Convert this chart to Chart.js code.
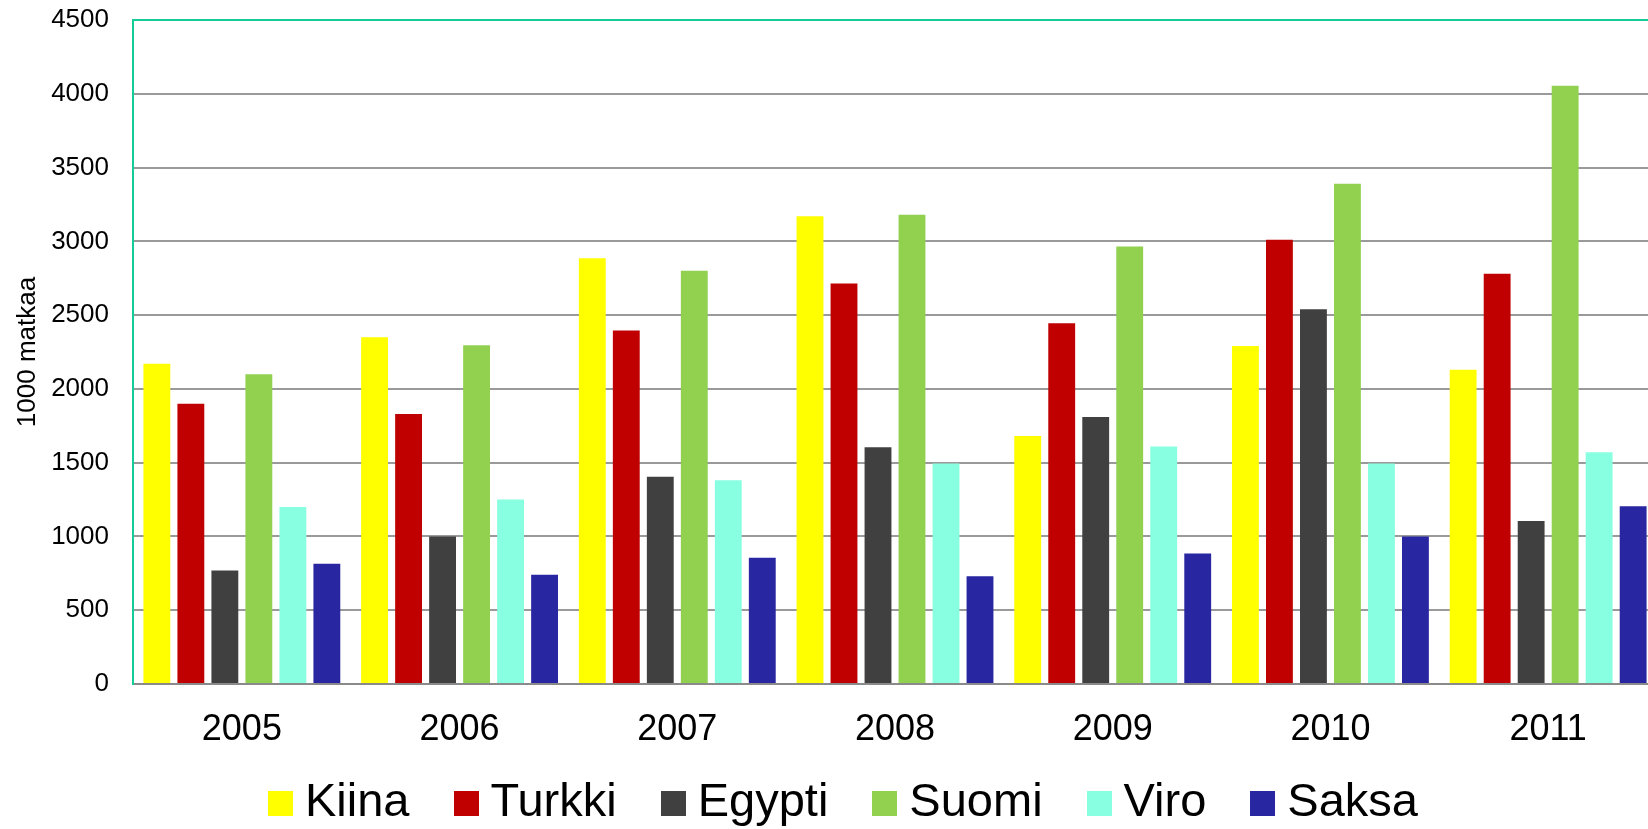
<!DOCTYPE html>
<html>
<head>
<meta charset="utf-8">
<script src="https://cdn.jsdelivr.net/npm/chart.js@4"></script>
<style>
  body { margin: 0; overflow: hidden; background: #fff; font-family: "Liberation Sans", Arial, sans-serif; }
  #wrap { position: absolute; left: 0; top: 0; width: 1648px; height: 829px; overflow: hidden; }
  #legend-container { position: absolute; left: 268px; top: 775px; display: flex; white-space: nowrap; }
  .legend-item { display: flex; align-items: center; margin-right: 44px; font-size: 47px; line-height: 50px; color: #000; }
  .legend-color { display: inline-block; width: 25px; height: 25px; margin-right: 12px; position: relative; top: 3px; }
</style>
</head>
<body>
<div id="wrap">
  <canvas id="travelChart" width="1660" height="829"></canvas>
  <div id="legend-container"></div>
</div>
<script>
const years = ['2005', '2006', '2007', '2008', '2009', '2010', '2011'];
const kiina = [2170, 2350, 2885, 3170, 1680, 2290, 2130];
const turkki = [1900, 1830, 2395, 2715, 2445, 3010, 2780];
const egypti = [770, 1000, 1405, 1605, 1810, 2540, 1105];
const suomi = [2100, 2295, 2800, 3180, 2965, 3390, 4055];
const viro = [1200, 1250, 1380, 1495, 1610, 1495, 1570];
const saksa = [815, 740, 855, 730, 885, 1000, 1205];
const yTicks = [0, 500, 1000, 1500, 2000, 2500, 3000, 3500, 4000, 4500];

const seriesNames = ['Kiina', 'Turkki', 'Egypti', 'Suomi', 'Viro', 'Saksa'];
const seriesData = [kiina, turkki, egypti, suomi, viro, saksa];
const seriesColors = ['#FFFF00', '#C00000', '#404040', '#92D050', '#88FFE0', '#2926A2'];

const green = '#14CC96';

const ctx = document.getElementById('travelChart').getContext('2d');
const travelChart = new Chart(ctx, {
    type: 'bar',
    data: {
        labels: years,
        datasets: seriesNames.map((name, i) => ({
            label: name,
            data: seriesData[i],
            backgroundColor: seriesColors[i],
            borderWidth: 0,
            categoryPercentage: 0.937,
            barPercentage: 0.79
        }))
    },
    options: {
        responsive: false,
        animation: false,
        layout: {
            padding: { top: 20, right: 3, left: 0, bottom: 0 }
        },
        plugins: {
            legend: { display: false },
            title: { display: false },
            tooltip: { enabled: false }
        },
        scales: {
            x: {
                grid: { display: false, drawTicks: false },
                border: { display: true, color: '#8a8a8a', width: 2 },
                ticks: {
                    color: '#000',
                    font: { family: '"Liberation Sans", Arial', size: 36 },
                    padding: 24
                },
                afterFit: function (scale) { scale.height = 145; }
            },
            y: {
                min: 0,
                max: 4500,
                afterBuildTicks: function (scale) {
                    scale.ticks = yTicks.map(v => ({ value: v }));
                },
                grid: {
                    drawTicks: true,
                    tickLength: 24,
                    tickColor: 'rgba(0,0,0,0)',
                    lineWidth: 2,
                    color: function (c) {
                        return c.tick && c.tick.value === 4500 ? green : '#9a9a9a';
                    }
                },
                border: { display: true, color: green, width: 2 },
                ticks: {
                    color: '#000',
                    font: { family: '"Liberation Sans", Arial', size: 26 },
                    padding: 0,
                    callback: function (value) { return String(value); }
                },
                title: {
                    display: true,
                    text: '1000 matkaa',
                    color: '#000',
                    font: { family: '"Liberation Sans", Arial', size: 26 },
                    padding: { top: 12, bottom: 0 }
                },
                afterFit: function (scale) { scale.width = 133; }
            }
        }
    }
});

const legendContainer = document.getElementById('legend-container');
const legendItems = travelChart.data.datasets.map(ds => {
    return `
    <div class="legend-item">
      <span class="legend-color" style="background-color: ${ds.backgroundColor};"></span>
      <span class="legend-label">${ds.label}</span>
    </div>
  `;
}).join('');
legendContainer.innerHTML = legendItems;
</script>
</body>
</html>
